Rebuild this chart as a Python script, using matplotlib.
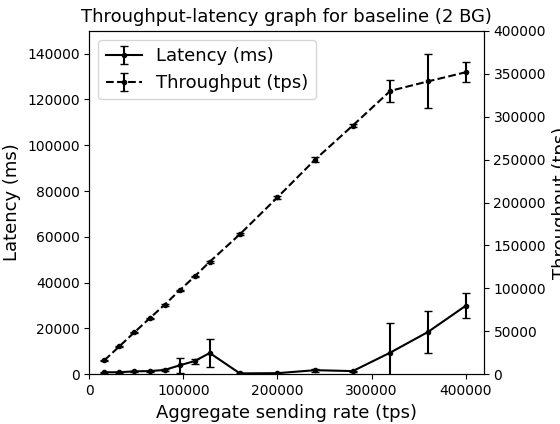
import matplotlib
matplotlib.use("Agg")
import matplotlib.pyplot as plt
from matplotlib.ticker import MultipleLocator

# aggregate sending rate (tps)
rates = [16000, 32000, 48000, 64000, 80000, 96000, 112000, 128000,
         160000, 200000, 240000, 280000, 320000, 360000, 400000]

latency = [900, 900, 1300, 1400, 1900, 3900, 5800, 9300,
           400, 500, 1800, 1400, 9500, 18500, 29900]
latency_err = [200, 200, 200, 200, 300, 3200, 1100, 6000,
               200, 200, 600, 200, 12700, 9000, 5500]

throughput = [16300, 32600, 49000, 65000, 81000, 97700, 114000, 131000,
              163000, 206000, 250000, 289600, 330000, 341000, 351600]
throughput_err = [800, 800, 800, 800, 1000, 1000, 1000, 1000,
                  1000, 1500, 2500, 1500, 12800, 31400, 11600]

fig = plt.figure(figsize=(5.6, 4.24), dpi=100)
ax = fig.add_axes([0.1595, 0.1172, 0.7043, 0.8104])
ax2 = ax.twinx()

l1 = ax.errorbar(rates, latency, yerr=latency_err, color='black', marker='.',
                 linestyle='solid', capsize=3, label="Latency (ms)")
l2 = ax2.errorbar(rates, throughput, yerr=throughput_err, color='black', marker='.',
                  linestyle='dashed', capsize=3, label="Throughput (tps)")

ax.set_xlim(left=0)
ax.xaxis.set_major_locator(MultipleLocator(100000))
ax.set_ylim(0, 150000)
ax2.set_ylim(0, 400000)

ax.set_xlabel("Aggregate sending rate (tps)", fontsize=13)
ax.set_ylabel("Latency (ms)", fontsize=13)
ax2.set_ylabel("Throughput (tps)", fontsize=13)
ax.set_title("Throughput-latency graph for baseline (2 BG)", fontsize=13)

ax2.legend([l1, l2], ["Latency (ms)", "Throughput (tps)"], loc='upper left', fontsize=13)

fig.savefig("out.png", dpi=100)
